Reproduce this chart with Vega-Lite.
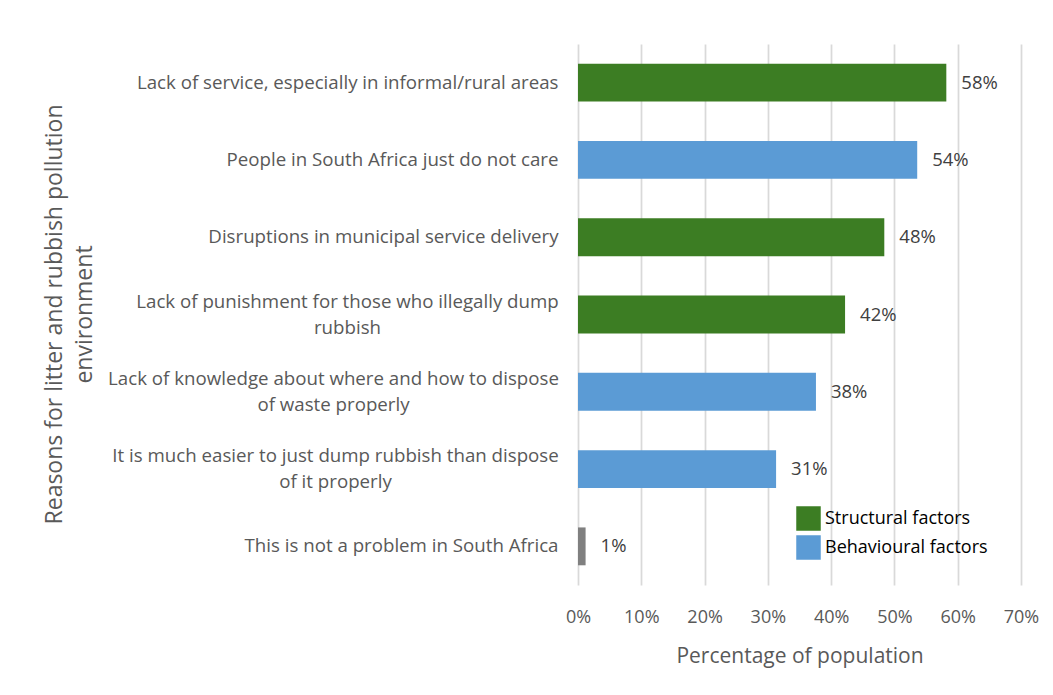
{
  "$schema": "https://vega.github.io/schema/vega-lite/v6.json",
  "width": 443,
  "height": 541,
  "autosize": {"type": "none"},
  "padding": {"left": 578, "top": 44, "right": 32, "bottom": 110},
  "background": "white",
  "config": {
    "font": "Open Sans",
    "view": {"stroke": null}
  },
  "data": {
    "values": [
      {"reason": "Lack of service, especially in informal/rural areas", "share": 0.582, "factor": "Structural factors"},
      {"reason": "People in South Africa just do not care", "share": 0.536, "factor": "Behavioural factors"},
      {"reason": "Disruptions in municipal service delivery", "share": 0.484, "factor": "Structural factors"},
      {"reason": "Lack of punishment for those who illegally dump rubbish", "share": 0.422, "factor": "Structural factors"},
      {"reason": "Lack of knowledge about where and how to dispose of waste properly", "share": 0.376, "factor": "Behavioural factors"},
      {"reason": "It is much easier to just dump rubbish than dispose of it properly", "share": 0.313, "factor": "Behavioural factors"},
      {"reason": "This is not a problem in South Africa", "share": 0.012, "factor": "None"}
    ]
  },
  "encoding": {
    "y": {
      "field": "reason",
      "type": "nominal",
      "sort": null,
      "scale": {"paddingInner": 0.51, "paddingOuter": 0.255},
      "axis": {
        "title": ["Reasons for litter and rubbish pollution", "environment"],
        "titleFontSize": 23,
        "titleLineHeight": 30,
        "titleFontWeight": "normal",
        "titleColor": "#595959",
        "titleAngle": -90,
        "titleAlign": "center",
        "titleBaseline": "top",
        "titleX": -535,
        "titleY": 270,
        "labelFontSize": 18.7,
        "labelColor": "#595959",
        "labelLimit": 600,
        "labelLineHeight": 26,
        "labelAlign": {"condition": {"test": "length(datum.label) > 52", "value": "center"}, "value": "right"},
        "labelPadding": {"condition": [
          {"test": "indexof(datum.label, 'punishment') >= 0", "value": 231},
          {"test": "indexof(datum.label, 'knowledge') >= 0", "value": 245},
          {"test": "indexof(datum.label, 'easier') >= 0", "value": 243}
        ], "value": 20},
        "labelOffset": {"condition": {"test": "length(datum.label) > 52", "value": -13}, "value": 0},
        "labelExpr": "datum.label == 'Lack of punishment for those who illegally dump rubbish' ? ['Lack of punishment for those who illegally dump', 'rubbish'] : datum.label == 'Lack of knowledge about where and how to dispose of waste properly' ? ['Lack of knowledge about where and how to dispose', 'of waste properly'] : datum.label == 'It is much easier to just dump rubbish than dispose of it properly' ? ['It is much easier to just dump rubbish than dispose', 'of it properly'] : datum.label",
        "ticks": false,
        "domain": false,
        "grid": false
      }
    }
  },
  "layer": [
    {
      "mark": {"type": "bar"},
      "encoding": {
        "x": {
          "field": "share",
          "type": "quantitative",
          "scale": {"domain": [0, 0.7], "nice": false},
          "axis": {
            "title": "Percentage of population",
            "titleFontSize": 21,
            "titleFontWeight": "normal",
            "titleColor": "#595959",
            "titlePadding": 19,
            "format": ".0%",
            "values": [0, 0.1, 0.2, 0.3, 0.4, 0.5, 0.6, 0.7],
            "labelFontSize": 18,
            "labelColor": "#595959",
            "labelPadding": 23,
            "labelFlush": false,
            "ticks": false,
            "domain": false,
            "grid": true,
            "gridColor": "#d9d9d9",
            "gridWidth": 1.75
          }
        },
        "color": {
          "condition": {"test": "datum.factor == 'None'", "value": "#808080"},
          "field": "factor",
          "type": "nominal",
          "scale": {"domain": ["Structural factors", "Behavioural factors"], "range": ["#3c7d23", "#5b9bd5"]},
          "legend": {
            "title": null,
            "orient": "none",
            "legendX": 218,
            "legendY": 462,
            "symbolType": "square",
            "symbolSize": 600,
            "symbolStrokeWidth": 0,
            "labelFontSize": 18,
            "labelColor": "#000000",
            "labelOffset": 4,
            "labelLimit": 300,
            "rowPadding": 4,
            "encode": {
              "symbols": {"update": {"fill": {"signal": "datum.value == 'Structural factors' ? '#2e7522' : '#4591d4'"}, "opacity": {"value": 1}}}
            }
          }
        }
      }
    },
    {
      "mark": {"type": "text", "align": "left", "baseline": "middle", "dx": 15, "fontSize": 18.5, "color": "#404040"},
      "encoding": {
        "x": {"field": "share", "type": "quantitative"},
        "text": {"field": "share", "type": "quantitative", "format": ".0%"}
      }
    }
  ]
}
